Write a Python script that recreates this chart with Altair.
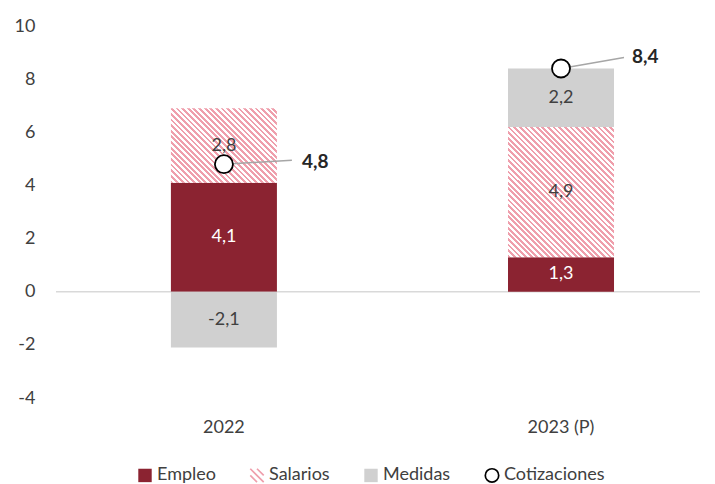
import altair as alt
import pandas as pd

# ---------------- data ----------------
categories = ["2022", "2023 (P)"]
series = ["Empleo", "Salarios", "Medidas"]
empleo = [4.1, 1.3]
salarios = [2.8, 4.9]
medidas = [-2.1, 2.2]
cotizaciones = [4.8, 8.4]
legend_items = ["Empleo", "Salarios", "Medidas", "Cotizaciones"]
y_ticks = [-4, -2, 0, 2, 4, 6, 8, 10]


def fmt(v):
    return f"{v:.1f}".replace(".", ",")


rows = []
for i, c in enumerate(categories):
    for j, (s, vals) in enumerate(zip(series, [empleo, salarios, medidas])):
        rows.append({"cat": c, "serie": s, "orden": j, "valor": vals[i],
                     "etiqueta": fmt(vals[i])})
bars_df = pd.DataFrame(rows)
cot_df = pd.DataFrame({"cat": categories, "serie": ["Cotizaciones"] * len(categories),
                       "valor": cotizaciones,
                       "etiqueta": [fmt(v) for v in cotizaciones]})

# ---------------- styles ----------------
FONT = "Lato"
TXT = "#404040"
RED = "#8b2331"
PINK = "#ef9fac"
GRAY = "#d0d0d0"
W, H = 644, 372
PX_PER_UNIT = H / 14.0
BAR_W = 106


def hatch(h_px, w_px=BAR_W, period=5.6, color=PINK):
    r = h_px / w_px
    k = (1 + r) / (1 + r * r)
    n = int(round(w_px / period * (1 + r)))
    stops = []
    for i in range(n):
        a = round(i / n, 5)
        b = round((i + 0.5) / n, 5)
        c = round((i + 1) / n, 5)
        stops += [{"offset": a, "color": color}, {"offset": b, "color": color},
                  {"offset": b, "color": "#ffffff"}, {"offset": c, "color": "#ffffff"}]
    return {"gradient": "linear", "x1": 0, "y1": 1, "x2": round(k, 5),
            "y2": round(1 - k * r, 5), "stops": stops}


hatch_cond = [
    {"test": f"datum.serie === 'Salarios' && datum.cat === '{c}'",
     "value": hatch(salarios[i] * PX_PER_UNIT)}
    for i, c in enumerate(categories)
]

xscale = alt.Scale(domain=categories, paddingInner=0.6855, paddingOuter=0.298, align=0.572)
yscale = alt.Scale(domain=[-4, 10], nice=False, zero=False)
fill_scale = alt.Scale(domain=legend_items, range=[RED, "transparent", GRAY, "#ffffff"])
stroke_scale = alt.Scale(domain=legend_items, range=["transparent", PINK, "transparent", "#000000"])

sym_shape = ("datum.value === 'Cotizaciones' ? 'circle' : datum.value === 'Salarios' ? "
             "'M-1,0L0,1M-1,-1L1,1M0,-1L1,0' : 'square'")

legend = alt.Legend(
    title=None, orient="none", legendX=80, legendY=440, direction="horizontal",
    symbolSize=180, labelFont=FONT, labelFontSize=18, labelColor=TXT, labelOffset=3,
    columnPadding=30, padding=0, symbolStrokeWidth=1.7,
    symbolType={"expr": sym_shape},
)

x_enc = alt.X("cat:N", scale=xscale, sort=categories, title=None,
              axis=alt.Axis(labelAngle=0, domain=False, ticks=False, labelFont=FONT,
                            labelFontSize=18, labelColor=TXT, labelPadding=20))

zero = alt.Chart(pd.DataFrame({"z": [0]})).mark_rule(color="#d9d9d9", strokeWidth=1.5).encode(
    y=alt.Y("z:Q", scale=yscale, title=None)
)

stacked = alt.Chart(bars_df).transform_stack(
    stack="valor", groupby=["cat"], sort=[alt.SortField("orden")], as_=["y0", "y1"]
).transform_calculate(mid="(datum.y0 + datum.y1) / 2")

bars = stacked.mark_bar().encode(
    x=x_enc,
    y=alt.Y("y0:Q", scale=yscale, title=None,
            axis=alt.Axis(values=y_ticks, domain=False, ticks=False, grid=False,
                          labelFont=FONT, labelFontSize=18, labelColor=TXT,
                          labelPadding=21, labelExpr="'' + datum.value")),
    y2="y1:Q",
    color=alt.Color("serie:N", scale=fill_scale, legend=legend, condition=hatch_cond),
)

bar_text = stacked.mark_text(font=FONT, fontSize=18, baseline="middle").encode(
    x=alt.X("cat:N", scale=xscale, sort=categories, title=None),
    y=alt.Y("mid:Q", scale=yscale, title=None),
    text="etiqueta:N",
    color=alt.condition("datum.serie === 'Empleo'", alt.value("white"), alt.value(TXT)),
)

callout_style = [
    {"line_dx": 68, "line_dy": -4, "text_dx": 78, "text_dy": -2.5},
    {"line_dx": 63, "line_dy": -11, "text_dx": 71, "text_dy": -12},
]

layers = [zero, bars, bar_text]
for c, st in zip(categories, callout_style):
    base = alt.Chart(cot_df).transform_filter(alt.datum.cat == c)
    layers.append(
        base.mark_rule(color="#a6a6a6", strokeWidth=1.5, x2Offset=st["line_dx"],
                       y2Offset=st["line_dy"]).encode(
            x=alt.X("cat:N", scale=xscale, sort=categories, title=None, bandPosition=0.5),
            x2=alt.X2("cat:N", bandPosition=0.5),
            y=alt.Y("valor:Q", scale=yscale, title=None),
            y2="valor:Q",
        )
    )

points = alt.Chart(cot_df).mark_point(filled=False, size=324, strokeWidth=1.8,
                                      opacity=1).encode(
    x=alt.X("cat:N", scale=xscale, sort=categories, title=None),
    y=alt.Y("valor:Q", scale=yscale, title=None),
    fill=alt.value("#ffffff"),
    stroke=alt.Stroke("serie:N", scale=stroke_scale, legend=legend),
)
layers.append(points)

for c, st in zip(categories, callout_style):
    base = alt.Chart(cot_df).transform_filter(alt.datum.cat == c)
    layers.append(
        base.mark_text(font=FONT, fontSize=19, fontWeight="bold", color="#262626",
                       align="left", baseline="middle", dx=st["text_dx"], dy=st["text_dy"]).encode(
            x=alt.X("cat:N", scale=xscale, sort=categories, title=None),
            y=alt.Y("valor:Q", scale=yscale, title=None),
            text="etiqueta:N",
        )
    )

chart = alt.layer(*layers).properties(
    width=W, height=H,
    padding={"left": 48, "top": 18, "right": 7, "bottom": 86},
    autosize=alt.AutoSizeParams(type="none"),
    background="white",
).configure_view(stroke=None)

chart.save("out.html", embed_options={"renderer": "svg", "actions": False})
